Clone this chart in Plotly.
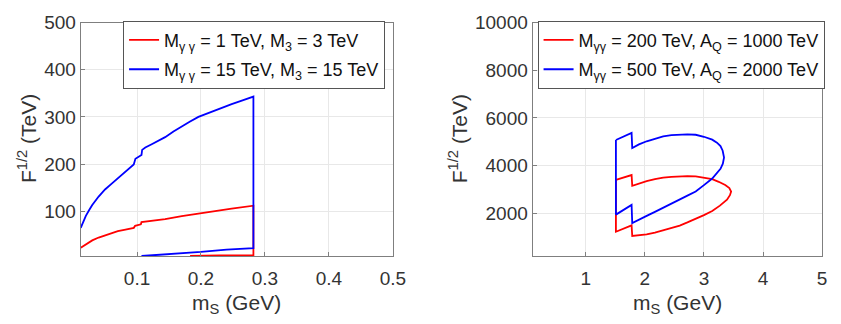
import plotly.graph_objects as go

# ---------------- data ----------------
# Left panel
left_red_x = [0.012, 0.020, 0.030, 0.040, 0.050, 0.060, 0.070, 0.080, 0.092, 0.095, 0.097,
              0.1026, 0.106, 0.107, 0.120, 0.133, 0.144, 0.170, 0.196, 0.222, 0.248, 0.282,
              0.282, 0.230, 0.183]
left_red_y = [22.3, 30.0, 38.0, 44.0, 49.0, 54.0, 57.5, 60.5, 63.5, 64.6, 69.0,
              71.4, 72.0, 77.0, 79.0, 80.5, 83.0, 89.5, 95.0, 100.5, 105.5, 111.6,
              6.7, 6.0, 5.0]
left_blue_x = [0.012, 0.015, 0.020, 0.025, 0.030, 0.040, 0.050, 0.060, 0.070, 0.080, 0.090,
               0.0949, 0.0975, 0.107, 0.108, 0.113, 0.123, 0.133, 0.144, 0.157, 0.170, 0.183,
               0.196, 0.209, 0.222, 0.235, 0.248, 0.265, 0.282, 0.282, 0.240, 0.200,
               0.150, 0.107]
left_blue_y = [64.6, 75.0, 90.0, 102.0, 113.0, 131.0, 146.0, 158.0, 170.0, 181.0, 192.0,
               199.0, 211.0, 219.0, 230.0, 235.0, 242.0, 249.0, 257.0, 269.0, 280.0, 290.0,
               300.0, 307.0, 314.0, 321.0, 327.0, 335.0, 343.0, 21.5, 18.5, 13.5,
               8.5, 4.8]

# Right panel
right_red_x = [1.51, 1.775, 1.786, 1.90, 2.03, 2.17, 2.31, 2.45, 2.59, 2.72, 2.86, 3.00,
               3.14, 3.25, 3.36, 3.43, 3.46, 3.44, 3.39, 3.27, 3.14, 3.00, 2.86, 2.72,
               2.59, 2.45, 2.31, 2.17, 2.03, 1.90, 1.786, 1.775, 1.51, 1.51]
right_red_y = [3400, 3604, 3155, 3260, 3347, 3430, 3498, 3530, 3551, 3556, 3551, 3500,
               3429, 3320, 3184, 3061, 2910, 2759, 2571, 2320, 2094, 1920, 1755, 1615,
               1482, 1375, 1278, 1190, 1114, 1075, 1050, 1494, 1224, 3400]
right_blue_x = [1.51, 1.775, 1.786, 1.90, 2.03, 2.17, 2.31, 2.45, 2.59, 2.72, 2.86, 3.00,
                3.14, 3.22, 3.28, 3.317, 3.34, 3.32, 3.28, 3.22, 3.14, 3.00, 2.86, 2.72,
                2.59, 2.45, 2.31, 2.17, 2.03, 1.90, 1.786, 1.775, 1.51, 1.51]
right_blue_y = [5073, 5371, 4735, 4890, 5020, 5135, 5224, 5275, 5306, 5310, 5294, 5210,
                5090, 4963, 4816, 4624, 4339, 4082, 3865, 3673, 3457, 3180, 2910, 2740,
                2571, 2400, 2233, 2060, 1890, 1745, 1592, 2351, 1943, 5073]

left_names = ["M<sub>γ γ</sub> = 1 TeV, M<sub>3</sub> = 3 TeV",
              "M<sub>γ γ</sub> = 15 TeV, M<sub>3</sub> = 15 TeV"]
right_names = ["M<sub>γγ</sub> = 200 TeV, A<sub>Q</sub> = 1000 TeV",
               "M<sub>γγ</sub> = 500 TeV, A<sub>Q</sub> = 2000 TeV"]

left_xticks = [0.1, 0.2, 0.3, 0.4, 0.5]
left_yticks = [100, 200, 300, 400, 500]
right_xticks = [1, 2, 3, 4, 5]
right_yticks = [2000, 4000, 6000, 8000, 10000]

# ---------------- figure ----------------
W, H = 841, 324
RED = "#ff0000"
BLUE = "#0000ff"
FONT = "Liberation Sans, Arial, sans-serif"
TXT = "#333333"

fig = go.Figure()
fig.add_trace(go.Scatter(x=left_red_x, y=left_red_y, mode="lines", name=left_names[0],
                         line=dict(color=RED, width=1.8), xaxis="x", yaxis="y",
                         legend="legend", legendgroup="a"))
fig.add_trace(go.Scatter(x=left_blue_x, y=left_blue_y, mode="lines", name=left_names[1],
                         line=dict(color=BLUE, width=1.8), xaxis="x", yaxis="y",
                         legend="legend", legendgroup="b"))
fig.add_trace(go.Scatter(x=right_red_x, y=right_red_y, mode="lines", name=right_names[0],
                         line=dict(color=RED, width=1.8), xaxis="x2", yaxis="y2",
                         legend="legend2", legendgroup="c"))
fig.add_trace(go.Scatter(x=right_blue_x, y=right_blue_y, mode="lines", name=right_names[1],
                         line=dict(color=BLUE, width=1.8), xaxis="x2", yaxis="y2",
                         legend="legend2", legendgroup="d"))

ydom = [1 - 254 / H, 1 - 13 / H]
common_axis = dict(showline=True, linecolor="#7f7f7f", linewidth=1, mirror=True,
                   showgrid=True, gridcolor="#e8e8e8", gridwidth=1, zeroline=False,
                   ticks="inside", ticklen=4, tickcolor="#7f7f7f",
                   tickfont=dict(family=FONT, size=19, color=TXT))
xaxis_extra = dict(ticklabelstandoff=5)

legend_common = dict(xanchor="left", yanchor="top", bgcolor="white",
                     bordercolor="#555555", borderwidth=1,
                     font=dict(family=FONT, size=18, color="#111111"),
                     itemwidth=30, tracegroupgap=3)

fig.update_layout(
    width=W, height=H,
    margin=dict(l=0, r=0, t=0, b=0),
    paper_bgcolor="white", plot_bgcolor="white",
    font=dict(family=FONT, color=TXT),
    xaxis=dict(domain=[82 / W, 399 / W], range=[0.012, 0.5], tickvals=left_xticks,
               ticktext=[str(v) for v in left_xticks], anchor="y", **common_axis, **xaxis_extra),
    yaxis=dict(domain=ydom, range=[4.5, 500], tickvals=left_yticks,
               ticktext=[str(v) for v in left_yticks], anchor="x", **common_axis),
    xaxis2=dict(domain=[541 / W, 835 / W], range=[0.1, 5], tickvals=right_xticks,
                ticktext=[str(v) for v in right_xticks], anchor="y2", **common_axis,
                **xaxis_extra),
    yaxis2=dict(domain=ydom, range=[200, 10000], tickvals=right_yticks,
                ticktext=[str(v) for v in right_yticks], anchor="x2", **common_axis),
    legend=dict(x=125 / W, y=1 - 11 / H, **legend_common),
    legend2=dict(x=546 / W, y=1 - 11 / H, **legend_common),
    annotations=[
        dict(text="F<sup>1/2</sup> (TeV)", x=28 / W, y=1 - 132.5 / H, xref="paper", yref="paper",
             textangle=-90, showarrow=False, font=dict(family=FONT, size=21, color=TXT),
             xanchor="center", yanchor="middle"),
        dict(text="F<sup>1/2</sup> (TeV)", x=466 / W, y=1 - 132.5 / H, xref="paper", yref="paper",
             textangle=-90, showarrow=False, font=dict(family=FONT, size=21, color=TXT),
             xanchor="center", yanchor="middle"),
        dict(text="m<sub>S</sub> (GeV)", x=240.5 / W, y=1 - 303 / H, xref="paper", yref="paper",
             showarrow=False, font=dict(family=FONT, size=21, color=TXT),
             xanchor="center", yanchor="middle"),
        dict(text="m<sub>S</sub> (GeV)", x=688 / W, y=1 - 303 / H, xref="paper", yref="paper",
             showarrow=False, font=dict(family=FONT, size=21, color=TXT),
             xanchor="center", yanchor="middle"),
    ],
)

fig.write_html("out.html", config={"displayModeBar": False},
               post_script="document.body.style.margin='0';")
